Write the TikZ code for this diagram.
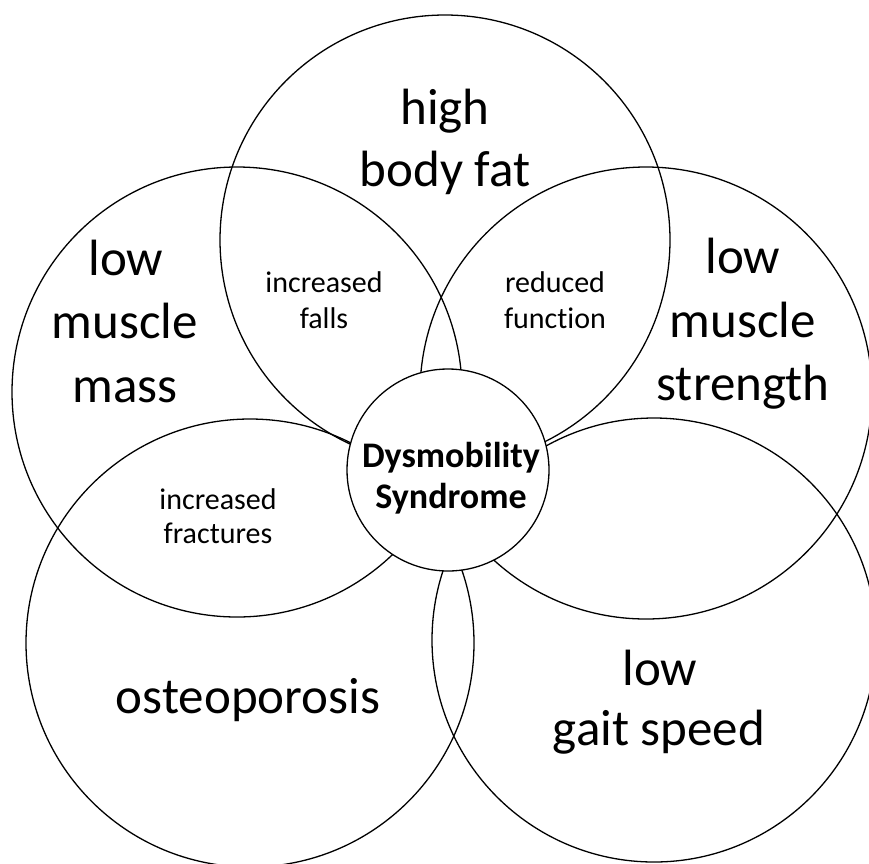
\documentclass[tikz,border=0pt]{standalone}
\usepackage{fontspec}
\setmainfont{Carlito}[Ligatures=NoCommon]
\begin{document}
\begin{tikzpicture}[x=1pt,y=-1pt,
  ring/.style={circle,draw=black,line width=1.3pt,inner sep=0pt,outer sep=0pt},
  big/.style={font=\fontsize{51}{61}\selectfont,anchor=base,inner sep=0pt},
  small/.style={font=\fontsize{30}{35}\selectfont,anchor=base,inner sep=0pt},
  core/.style={font=\bfseries\fontsize{36}{42}\selectfont,anchor=base,inner sep=0pt}]
\useasboundingbox (0,0) rectangle (869,863);
% outer circles
\node[ring,minimum size=450pt] (fat) at (445,240) {};
\node[ring,minimum size=450pt] (mass) at (237,392) {};
\node[ring,minimum size=452pt] (strength) at (646,393) {};
\node[ring,minimum size=448pt] (osteo) at (250,643) {};
\node[ring,minimum size=444pt] (gait) at (654,640) {};
% central circle
\node[ring,fill=white,minimum size=202pt] (dys) at (448,470) {};
% labels
\node[big] (fat1) at (445,124) {high};
\node[big] (fat2) at (445,186) {body fat};
\node[big] (mass1) at (126,275) {low};
\node[big] (mass2) at (125,338) {muscle};
\node[big] (mass3) at (125,402) {mass};
\node[big] (str1) at (743,273) {low};
\node[big] (str2) at (743,337) {muscle};
\node[big] (str3) at (743,400) {strength};
\node[big] (ost1) at (248,713) {osteoporosis};
\node[big] (gait1) at (660,685) {low};
\node[big] (gait2) at (659,745) {gait speed};
\node[small] (falls1) at (324,292) {increased};
\node[small] (falls2) at (324,328) {falls};
\node[small] (func1) at (555,292) {reduced};
\node[small] (func2) at (555,328) {function};
\node[small] (frac1) at (218,509) {increased};
\node[small] (frac2) at (218,543) {fractures};
\node[core] (dys1) at (451,467) {Dysmobility};
\node[core] (dys2) at (451,508) {Syndrome};
\end{tikzpicture}
\end{document}
